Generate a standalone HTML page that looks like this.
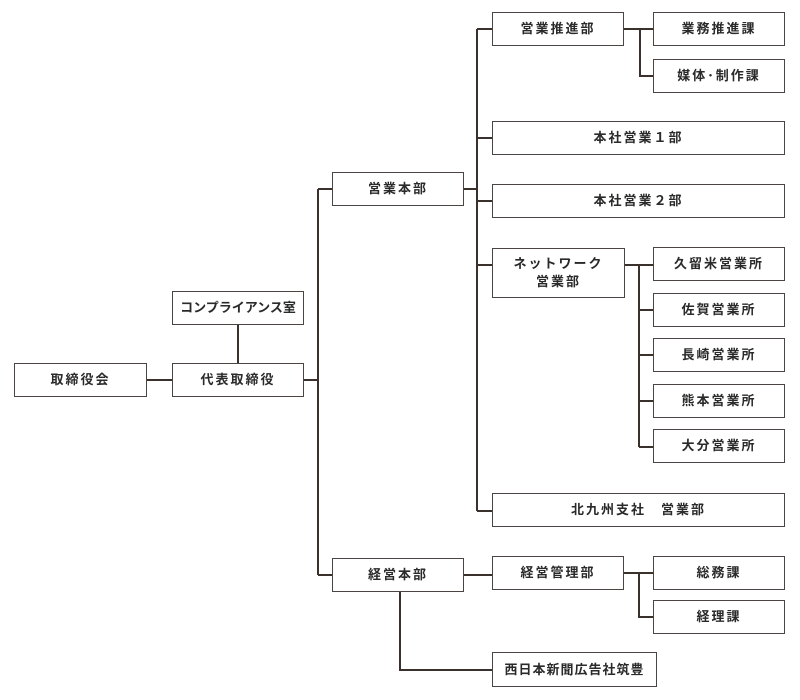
<!DOCTYPE html>
<html><head><meta charset="utf-8"><style>
body{margin:0;background:#fff;width:800px;height:700px;overflow:hidden;position:relative;font-family:"Liberation Sans","Noto Sans CJK JP",sans-serif;}
.b{position:absolute;box-sizing:border-box;border:1.5px solid #4a4442;background:#fff;display:flex;align-items:center;justify-content:center;text-align:center;font-size:13px;font-weight:bold;color:#2a2a2a;letter-spacing:2px;line-height:18px;}
svg{position:absolute;left:0;top:0}
</style></head><body>
<svg width="800" height="700"><g stroke="#3a302c" stroke-width="2" fill="none">
<path d="M147 380H172"/><path d="M238 325V363"/><path d="M304 380H318"/>
<path d="M318 189V575"/><path d="M318 189H332"/><path d="M318 575H332"/>
<path d="M464 189H477"/><path d="M477 29V511"/>
<path d="M477 29H492"/><path d="M477 138H492"/><path d="M477 201H492"/><path d="M477 265H492"/><path d="M477 511H492"/>
<path d="M624 29H653"/><path d="M640 29V76H653"/>
<path d="M625 265H653"/><path d="M639 265V447"/><path d="M639 310H653"/><path d="M639 355H653"/><path d="M639 401H653"/><path d="M639 447H653"/>
<path d="M464 575H492"/><path d="M624 573H653"/><path d="M639 573V617H653"/>
<path d="M400 592V670H492"/>
</g></svg>
<div class="b" style="left:14px;top:363px;width:133px;height:34px">取締役会</div>
<div class="b" style="left:172px;top:363px;width:132px;height:34px">代表取締役</div>
<div class="b" style="left:172px;top:291px;width:132px;height:34px;letter-spacing:0">コンプライアンス室</div>
<div class="b" style="left:332px;top:172px;width:132px;height:34px">営業本部</div>
<div class="b" style="left:332px;top:558px;width:132px;height:34px">経営本部</div>
<div class="b" style="left:492px;top:12px;width:132px;height:34px">営業推進部</div>
<div class="b" style="left:653px;top:12px;width:132px;height:34px">業務推進課</div>
<div class="b" style="left:653px;top:59px;width:132px;height:34px">媒体･制作課</div>
<div class="b" style="left:492px;top:121px;width:293px;height:34px">本社営業１部</div>
<div class="b" style="left:492px;top:184px;width:293px;height:34px">本社営業２部</div>
<div class="b" style="left:492px;top:248px;width:133px;height:50px">ネットワーク<br>営業部</div>
<div class="b" style="left:653px;top:247px;width:132px;height:34px">久留米営業所</div>
<div class="b" style="left:653px;top:293px;width:132px;height:34px">佐賀営業所</div>
<div class="b" style="left:653px;top:338px;width:132px;height:34px">長崎営業所</div>
<div class="b" style="left:653px;top:384px;width:132px;height:34px">熊本営業所</div>
<div class="b" style="left:653px;top:429px;width:132px;height:34px">大分営業所</div>
<div class="b" style="left:492px;top:493px;width:293px;height:34px">北九州支社　営業部</div>
<div class="b" style="left:492px;top:556px;width:132px;height:34px">経営管理部</div>
<div class="b" style="left:653px;top:556px;width:132px;height:34px">総務課</div>
<div class="b" style="left:653px;top:600px;width:132px;height:34px">経理課</div>
<div class="b" style="left:492px;top:652px;width:165px;height:35px;letter-spacing:1px">西日本新聞広告社筑豊</div>
</body></html>
